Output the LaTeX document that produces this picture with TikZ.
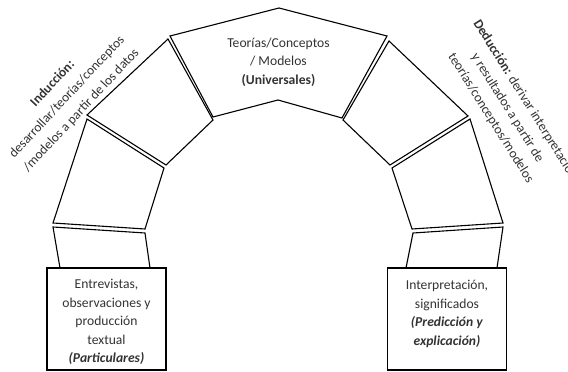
\documentclass[tikz,border=0pt]{standalone}
\usepackage{fontspec}
\setmainfont{Carlito}
\definecolor{txt}{HTML}{333333}
\begin{document}
\begin{tikzpicture}[x=1pt,y=-1pt,
  blk/.style={draw=black, line width=1.1pt, line join=miter},
  boxnode/.style={draw=black, line width=1.1pt, minimum width=119pt, minimum height=102pt, inner sep=0pt},
  lbl/.style={align=center, font=\fontsize{13.6}{18.5}\selectfont, text=txt, inner sep=0pt},
  rlbl/.style={align=center, font=\fontsize{13.4}{19.5}\selectfont, text=txt, inner sep=0pt}]
\useasboundingbox (0,0) rectangle (568,372);
% keystone
\draw[blk] (170,36) -- (279,8) -- (387,36) -- (342,118) -- (278,100) -- (213,117) -- cycle;
% left voussoirs
\draw[blk] (168,39) -- (213,120) -- (166,165) -- (87,115) -- cycle;
\draw[blk] (87,119) -- (164,168) -- (145,229) -- (53,223) -- cycle;
\draw[blk] (53,227) -- (145,233) -- (150,268) -- (60,268) -- cycle;
% right voussoirs
\draw[blk] (389,41) -- (468,116) -- (390,165) -- (343,120) -- cycle;
\draw[blk] (392,168) -- (470,119) -- (503,223) -- (412,229) -- cycle;
\draw[blk] (413,233) -- (503,227) -- (497,268) -- (406,268) -- cycle;
% base boxes
\node[boxnode] (boxL) at (106.5,319) {};
\node[boxnode] (boxR) at (447,319) {};
% texts
\node[lbl] (key) at (278.5,62) {Teorías/Conceptos\\/ Modelos\\\textbf{(Universales)}};
\node[lbl] (tL) at (106.5,322) {Entrevistas,\\observaciones y\\producción\\textual\\\textbf{\itshape (Particulares)}};
\node[lbl] (tR) at (447,314) {Interpretación,\\significados\\\textbf{\itshape (Predicción y}\\\textbf{\itshape explicación)}};
\node[rlbl, rotate=47] (ind) at (67,97) {\textbf{Inducción:}\\desarrollar/teorías/conceptos\\/modelos a partir de los datos};
\node[rlbl, rotate=-58, anchor=west] (ded1) at (476,21) {\textbf{Deducción:} derivar interpretaciones};
\node[rlbl, rotate=-58] (ded2) at (499,113) {y resultados a partir de\\teorías/conceptos/modelos};
\end{tikzpicture}
\end{document}
